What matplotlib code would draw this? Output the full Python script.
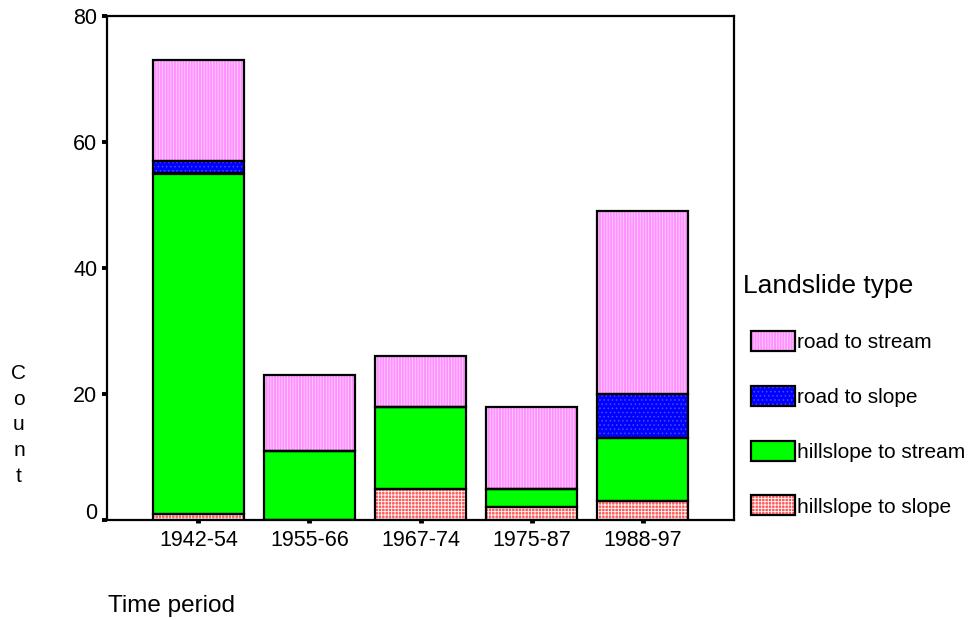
import matplotlib
matplotlib.use('Agg')
import matplotlib.pyplot as plt
from matplotlib.patches import Patch
import matplotlib.transforms as mtrans
import numpy as np

periods = ['1942-54', '1955-66', '1967-74', '1975-87', '1988-97']
hillslope_to_slope = [1, 0, 5, 2, 3]
hillslope_to_stream = [54, 11, 13, 3, 10]
road_to_slope = [2, 0, 0, 0, 7]
road_to_stream = [16, 12, 8, 13, 29]
series_names = ['hillslope to slope', 'hillslope to stream', 'road to slope', 'road to stream']
y_ticks = [0, 20, 40, 60, 80]

plt.rcParams['font.family'] = ['Liberation Sans', 'DejaVu Sans']
plt.rcParams['hatch.linewidth'] = 0.6

styles = [
    dict(face='#FF5A5A', hc='#FFFFFF', hatch='+++++'),
    dict(face='#00FF00', hc='#00FF00', hatch=None),
    dict(face='#0000FF', hc='#4A4AFF', hatch='....'),
    dict(face='#FF90FF', hc='#FFD2FF', hatch='||||||'),
]

fig = plt.figure(figsize=(9.71, 6.2), dpi=100)
ax = fig.add_axes([107/971, 1-520/620, (734-107)/971, (520-16)/620])
x = np.arange(len(periods))
bottom = np.zeros(len(periods))
handles = []
width = 0.82
for name, vals, st in zip(series_names,
                          [hillslope_to_slope, hillslope_to_stream, road_to_slope, road_to_stream],
                          styles):
    vals = np.array(vals, float)
    ax.bar(x, vals, width, bottom=bottom, color=st['face'], edgecolor=st['hc'],
           hatch=st['hatch'], linewidth=0, zorder=2)
    ax.bar(x, vals, width, bottom=bottom, fill=False, edgecolor='black', linewidth=1.6, zorder=3)
    bottom += vals
    handles.append((Patch(facecolor=st['face'], edgecolor=st['hc'], hatch=st['hatch'], linewidth=0),
                    Patch(fill=False, edgecolor='black', linewidth=1.6)))

ax.set_xlim(-0.824, 4.824)
ax.set_ylim(0, 80)
ax.set_xticks(x)
ax.set_xticklabels(periods)
ax.set_yticks(y_ticks)
ax.set_yticklabels([str(v) for v in y_ticks])
for s in ax.spines.values():
    s.set_linewidth(1.6)
ax.tick_params(axis='x', direction='out', length=2.5, width=3.5, color='black', labelsize=15.5, pad=4.5)
ax.tick_params(axis='y', direction='out', length=3.5, width=2.8, color='black', labelsize=15.5, pad=3.5)
for lab in ax.get_yticklabels():
    if lab.get_text() == '0':
        lab.set_transform(lab.get_transform() + mtrans.ScaledTranslation(0, 9/100, fig.dpi_scale_trans))

leg = fig.legend(handles[::-1], series_names[::-1], loc='upper left',
                 bbox_to_anchor=(751/971, 1-331/620), frameon=False, fontsize=15,
                 handlelength=2.12, handleheight=1.1, handletextpad=0.1,
                 labelspacing=1.62, borderpad=0, borderaxespad=0)

fig.text(743/971, 1-293/620, 'Landslide type', fontsize=19, va='baseline')
fig.text(108/971, 1-612/620, 'Time period', fontsize=17.5, va='baseline')
fig.text(19/971, 1-425/620, 'C\no\nu\nn\nt', ha='center', va='center', fontsize=15, linespacing=1.45)

fig.savefig('out.png', dpi=100)
